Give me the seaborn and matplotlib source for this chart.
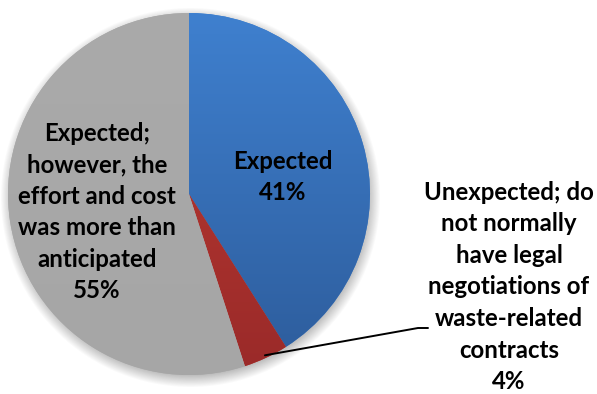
import numpy as np
import matplotlib
matplotlib.use("Agg")
import matplotlib.pyplot as plt
import seaborn as sns
from matplotlib.colors import LinearSegmentedColormap

sns.set_theme(style="white")
plt.rcParams["font.family"] = ["Lato", "DejaVu Sans"]

# Survey responses (share of respondents, %)
categories = [
    "Expected",
    "Unexpected; do\nnot normally\nhave legal\nnegotiations of\nwaste-related\ncontracts",
    "Expected;\nhowever, the\neffort and cost\nwas more than\nanticipated",
]
values = [41, 4, 55]
top_colors = ["#3f80cf", "#bd3b33", "#aaaaaa"]
bottom_colors = ["#2d5c9b", "#9a2a29", "#a6a6a6"]

W, H = 597, 394
fig = plt.figure(figsize=(W / 100, H / 100), dpi=100)
ax = fig.add_axes([0, 0, 1, 1])

cx, cy, r = 189, H - 194, 181

# soft drop shadow under the pie
yy, xx = np.mgrid[0:H, 0:W]
d = np.hypot(xx - cx - 1, (H - 1 - yy) - (cy - 4))
shadow = np.clip((r + 9 - d) / 14, 0, 1) * 0.45
rgba = np.zeros((H, W, 4))
rgba[..., :3] = 0.35
rgba[..., 3] = shadow
ax.imshow(rgba, extent=(0, W, 0, H), origin="upper", zorder=0, interpolation="bilinear")

wedges, _ = ax.pie(
    values, startangle=90, counterclock=False, center=(cx, cy), radius=r,
    colors=top_colors, wedgeprops=dict(linewidth=0), frame=True,
)

# vertical gradient fill inside each wedge
grad = np.linspace(0, 1, 256).reshape(-1, 1)
for w, c0, c1 in zip(wedges, top_colors, bottom_colors):
    cmap = LinearSegmentedColormap.from_list("g", [c0, c1])
    im = ax.imshow(grad, cmap=cmap, aspect="auto", origin="upper",
                   extent=(cx - r, cx + r, cy - r, cy + r), zorder=2)
    im.set_clip_path(w)

ax.set_xlim(0, W)
ax.set_ylim(0, H)
ax.set_aspect("equal")
ax.axis("off")

fs = 17.3
txt = dict(fontsize=fs, fontweight="bold", color="black", ha="center",
           va="center", linespacing=1.45, zorder=5)

# in-slice labels
ax.text(283, H - 177, f"{categories[0]}\n{values[0]}%", **txt)
ax.text(97, H - 212, f"{categories[2]}\n{values[2]}%", **txt)

# leader-line label for the small slice
start = 90 - (values[0] + values[1] / 2) / sum(values) * 360
ang = np.deg2rad(start)
p0 = (cx + 0.985 * r * np.cos(ang), cy + 0.985 * r * np.sin(ang))
ax.plot([p0[0], 418, 428], [p0[1], H - 328, H - 328], color="black", lw=1.4, zorder=6)
ax.text(509, H - 287, f"{categories[1]}\n{values[1]}%", **txt)

fig.savefig("out.png", dpi=100)
